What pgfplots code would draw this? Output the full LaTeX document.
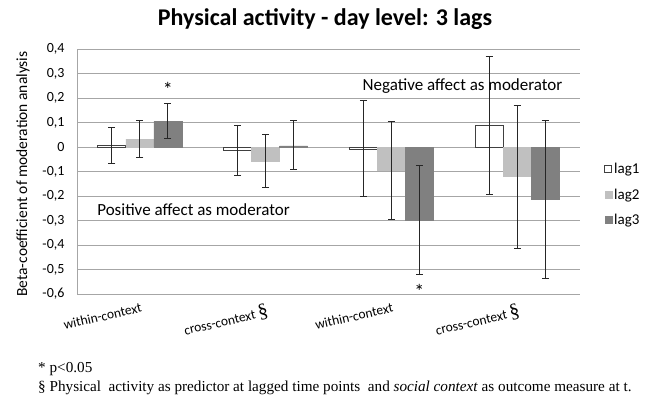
\documentclass[border=0pt]{standalone}
\usepackage{pgfplots}
\pgfplotsset{compat=1.18}
\usepackage{pgfplotstable}
\usepackage{fontspec}
\setmainfont{Carlito}
\newfontfamily\serif{Liberation Serif}
\definecolor{gridc}{HTML}{A6A6A6}
\definecolor{lagtwo}{HTML}{C0C0C0}
\definecolor{lagthree}{HTML}{808080}
\definecolor{errc}{HTML}{262626}
\definecolor{edge}{HTML}{404040}

\pgfplotstableread{
x y ep em
0 0.005 0.075 0.070
1 -0.015 0.105 0.100
2 -0.008 0.198 0.192
3 0.088 0.282 0.283
}\lagA
\pgfplotstableread{
x y ep em
0 0.032 0.078 0.074
1 -0.057 0.107 0.108
2 -0.095 0.200 0.200
3 -0.120 0.288 0.295
}\lagB
\pgfplotstableread{
x y ep em
0 0.105 0.073 0.070
1 0.005 0.105 0.097
2 -0.300 0.225 0.220
3 -0.215 0.325 0.320
}\lagC

\begin{document}
\begin{tikzpicture}
\path[use as bounding box] (0pt,0pt) rectangle (647pt,400pt);
\begin{axis}[
  at={(77pt,106pt)}, anchor=south west,
  scale only axis, width=503pt, height=245pt,
  xmin=-0.5, xmax=3.5, ymin=-0.6, ymax=0.4,
  ybar=0pt, bar width=28pt,
  xtick={0,1,2,3},
  xticklabels={within-context, cross-context {\serif\fontsize{20}{20}\selectfont\S}, within-context, cross-context {\serif\fontsize{20}{20}\selectfont\S}},
  xticklabel style={rotate=13, anchor=north east, font=\fontsize{13.5}{13.5}\selectfont, xshift=2pt, yshift=-5pt},
  ytick={-0.6,-0.5,...,0.4},
  yticklabel style={font=\fontsize{14}{14}\selectfont, xshift=-9pt},
  /pgf/number format/.cd, use comma, fixed, precision=1, assume math mode=true,
  /pgfplots/.cd,
  ymajorgrids, grid style={gridc, line width=0.8pt},
  major tick length=0pt,
  axis x line*=bottom, axis y line*=left,
  axis line style={gridc, line width=0.8pt, -},
  legend style={draw=none, at={(1.048,0.405)}, anchor=west, font=\fontsize{15}{15}\selectfont, row sep=9.5pt, inner sep=0pt},
  legend cell align=left,
  legend image code/.code={\draw[#1, draw opacity=1] (0pt,-3.5pt) rectangle (7pt,3.5pt);},
  error bars/y dir=both, error bars/y explicit,
  error bars/error bar style={errc, line width=0.8pt},
  error bars/error mark options={rotate=90, mark size=3.5pt, errc, line width=0.8pt},
]
\addplot[fill=white, draw=edge, line width=0.8pt] table[x=x, y=y, y error plus=ep, y error minus=em] {\lagA};
\addplot[fill=lagtwo, draw=lagtwo] table[x=x, y=y, y error plus=ep, y error minus=em] {\lagB};
\addplot[fill=lagthree, draw=lagthree] table[x=x, y=y, y error plus=ep, y error minus=em] {\lagC};
\legend{lag1, lag2, lag3}
\node[font=\fontsize{17}{17}\selectfont, anchor=west, inner sep=0pt] at (axis cs:-0.34,-0.254) {Positive affect as moderator};
\node[font=\fontsize{17}{17}\selectfont, anchor=west, inner sep=0pt] at (axis cs:1.77,0.25) {Negative affect as moderator};
\node[font=\fontsize{20}{20}\selectfont] at (axis cs:0.222,0.235) {*};
\node[font=\fontsize{20}{20}\selectfont] at (axis cs:2.222,-0.59) {*};
\end{axis}
\node[font=\bfseries\fontsize{24}{24}\selectfont] at (325pt,381pt) {Physical activity - day level: 3 lags};
\node[rotate=90, font=\fontsize{15.5}{15.5}\selectfont] at (23pt,226pt) {Beta-coefficient of moderation analysis};
\node[anchor=west, inner sep=0pt, font=\serif\fontsize{15.2}{15}\selectfont] at (38pt,31pt) {* p<0.05};
\node[anchor=west, inner sep=0pt, font=\serif\fontsize{15.2}{15}\selectfont] at (38pt,12pt) {\S\ Physical\ \ activity as predictor at lagged time points\ \ and \textit{social context} as outcome measure at t.};
\end{tikzpicture}
\end{document}
